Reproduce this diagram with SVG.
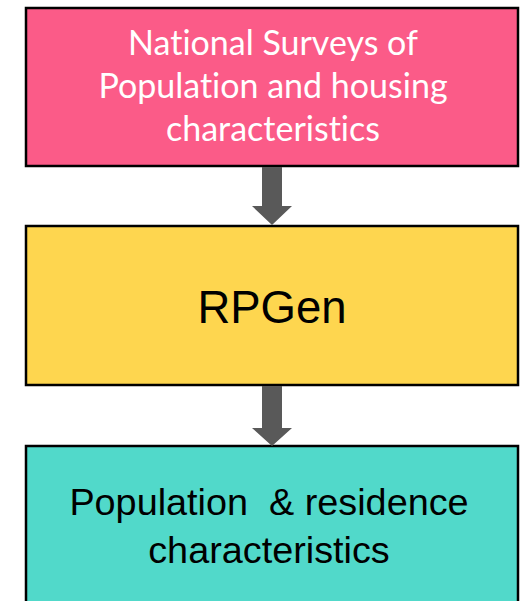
<svg xmlns="http://www.w3.org/2000/svg" width="532" height="601" viewBox="0 0 532 601">
<style>
.box{stroke:#000;stroke-width:2.5}
.t1{font-family:Lato,"Open Sans",sans-serif;font-size:34px;fill:#fff;text-anchor:middle;font-variant-ligatures:none}
.t2{font-family:"Liberation Sans",Arial,sans-serif;fill:#000;text-anchor:middle}
.arr{fill:#595959}
</style>
<rect width="532" height="601" fill="#fff"/>
<g id="node-surveys">
<rect class="box" x="26" y="8" width="492" height="158" fill="#FB5B88"/>
<text class="t1" x="273" y="55">National Surveys of</text>
<text class="t1" x="273" y="98">Population and housing</text>
<text class="t1" x="273" y="141">characteristics</text>
</g>
<g id="node-rpgen">
<rect class="box" x="26" y="226" width="492" height="159" fill="#FED64F"/>
<text class="t2" x="272" y="323" font-size="45.5">RPGen</text>
</g>
<g id="node-output">
<rect class="box" x="26" y="446" width="492" height="170" fill="#51D9CA"/>
<text class="t2" x="269" y="515" font-size="37.8" xml:space="preserve">Population  &amp; residence</text>
<text class="t2" x="269" y="563" font-size="37.8">characteristics</text>
</g>
<g id="connectors">
<polygon class="arr" points="262,167 282,167 282,206 292,206 272,225 252,206 262,206"/>
<polygon class="arr" points="262,386 282,386 282,428 292,428 272,446 252,428 262,428"/>
</g>
</svg>
